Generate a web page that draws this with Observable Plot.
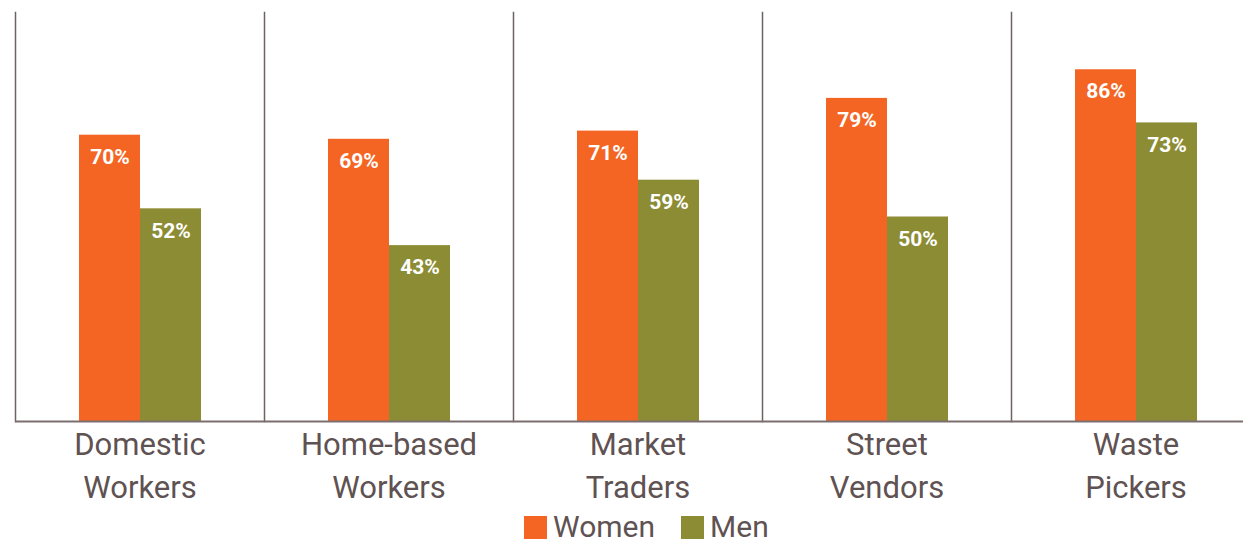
<!DOCTYPE html>
<html>
<head>
<meta charset="utf-8">
<script src="https://cdn.jsdelivr.net/npm/d3@7"></script>
<script src="https://cdn.jsdelivr.net/npm/@observablehq/plot@0.6"></script>
<style>
  html, body { margin: 0; padding: 0; background: #fff; overflow: hidden; width: 1243px; height: 542px; }
  #chart { position: absolute; left: 0; top: 0; }
  #legend { position: absolute; left: 524px; top: 512px; display: flex; align-items: center; font-family: Roboto, sans-serif; font-size: 30px; line-height: 30px; color: #5f5252; }
  .item { display: flex; align-items: center; margin-right: 26px; }
  .sw { width: 23px; height: 23px; margin-right: 6px; }
</style>
</head>
<body>
<div id="chart"></div>
<div id="legend"></div>
<script>
const categories = ["Domestic Workers", "Home-based Workers", "Market Traders", "Street Vendors", "Waste Pickers"];
const tickLabels = ["Domestic\nWorkers", "Home-based\nWorkers", "Market\nTraders", "Street\nVendors", "Waste\nPickers"];
const series = ["Women", "Men"];
const women = [70, 69, 71, 79, 86];
const men = [52, 43, 59, 50, 73];
const colors = ["#F46524", "#8C8C35"];

const data = categories.flatMap((c, i) => [
  {category: c, series: "Women", value: women[i]},
  {category: c, series: "Men", value: men[i]}
]);

const chart = Plot.plot({
  width: 1243,
  height: 510,
  marginTop: 12,
  marginBottom: 89,
  marginLeft: 14,
  marginRight: -18.5,
  style: {fontFamily: "Roboto, sans-serif", background: "transparent", overflow: "visible"},
  fx: {domain: categories, padding: 0, label: null, axis: null},
  x: {domain: series, paddingInner: 0, paddingOuter: 1.01, axis: null},
  y: {domain: [0, 100], axis: null},
  color: {domain: series, range: colors},
  marks: [
    Plot.frame({anchor: "left", stroke: "#6e6262", strokeWidth: 1.5}),
    Plot.barY(data, {fx: "category", x: "series", y: "value", fill: "series"}),
    Plot.ruleY([0], {stroke: "#7a6e6e", strokeWidth: 2}),
    Plot.text(data, {fx: "category", x: "series", y: "value", text: d => d.value + "%", dy: 22, fill: "white", fontWeight: "bold", fontSize: 21}),
    Plot.axisFx({anchor: "bottom", tickSize: 0, tickPadding: 3, fontSize: 31, lineHeight: 1.38, fill: "#5f5252", label: null,
      tickFormat: c => tickLabels[categories.indexOf(c)]})
  ]
});
document.getElementById("chart").appendChild(chart);

const legend = document.getElementById("legend");
series.forEach((s, i) => {
  const item = document.createElement("div");
  item.className = "item";
  const sw = document.createElement("div");
  sw.className = "sw";
  sw.style.background = colors[i];
  const t = document.createElement("span");
  t.textContent = s;
  item.appendChild(sw);
  item.appendChild(t);
  legend.appendChild(item);
});
</script>
</body>
</html>
